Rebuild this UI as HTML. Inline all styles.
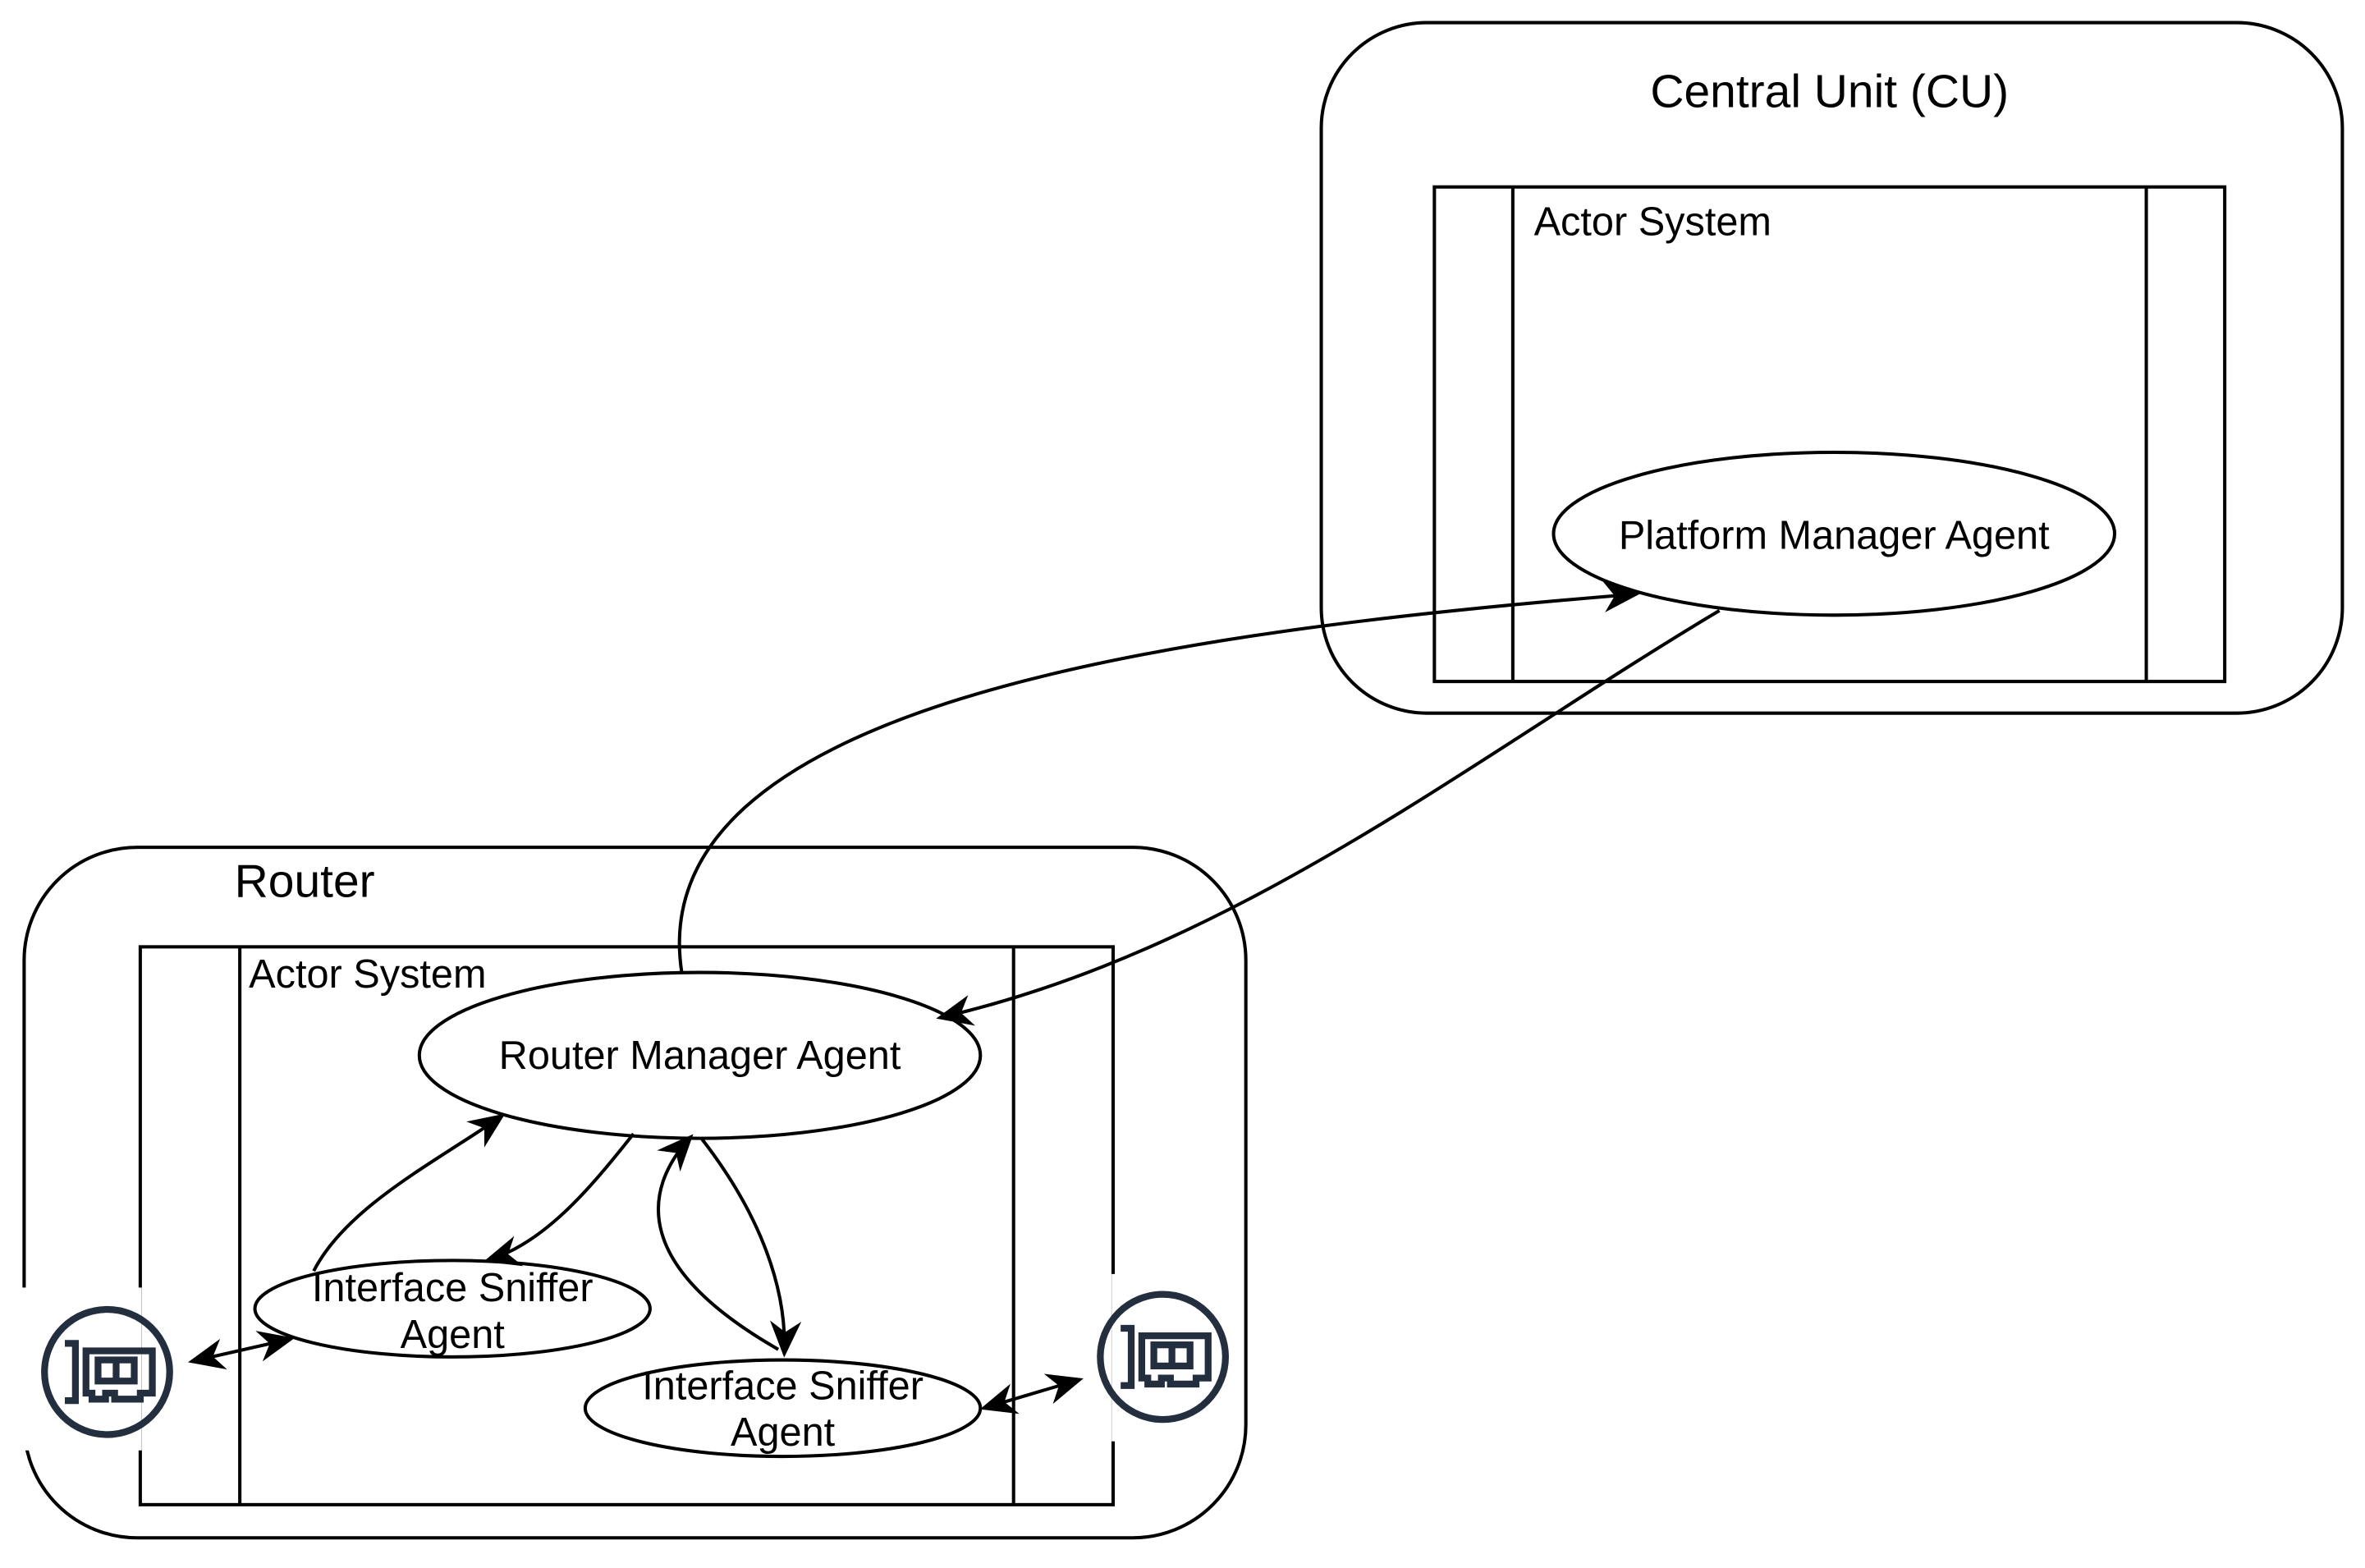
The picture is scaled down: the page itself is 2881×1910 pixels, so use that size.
<!DOCTYPE html>
<html><head><meta charset="utf-8"><style>html,body{margin:0;padding:0;background:#fff}svg{display:block}text{font-family:"Liberation Sans",Arial,sans-serif}</style></head>
<body>
<svg width="2881" height="1910" viewBox="0 0 1568 1040" preserveAspectRatio="none" xmlns="http://www.w3.org/2000/svg">
<defs>
<marker id="b" viewBox="0 0 10 10" refX="9" refY="5" markerWidth="11" markerHeight="11" orient="auto-start-reverse" markerUnits="strokeWidth"><path d="M0,0.7 L10,5 L0,9.3 L3,5 Z" fill="#000"/></marker>
<g id="ic">
<circle cx="0" cy="0" r="41.5" fill="none" stroke="#232f3e" stroke-width="4.5"/>
<path d="M-28,-19 H-21 V19 H-28" fill="none" stroke="#232f3e" stroke-width="4.5"/>
<path d="M-14,-14 H30 V14 H22 V18 H5 V14 H-1 V18 H-10 V14 H-14 Z" fill="none" stroke="#232f3e" stroke-width="4.5"/>
<rect x="-6" y="-8" width="24" height="14" fill="none" stroke="#232f3e" stroke-width="4.5"/>
<line x1="6" y1="-8" x2="6" y2="6" stroke="#232f3e" stroke-width="4.5"/>
</g>
</defs>
<g fill="none" stroke="#000" stroke-width="2.2">
<rect x="876" y="15" width="677" height="458" rx="70"/>
<rect x="951" y="124" width="524" height="328"/>
<line x1="1003" y1="124" x2="1003" y2="452"/>
<line x1="1423" y1="124" x2="1423" y2="452"/>
<rect x="16" y="562" width="810" height="458" rx="75"/>
<rect x="93" y="628" width="645" height="370"/>
<line x1="159" y1="628" x2="159" y2="998"/>
<line x1="672" y1="628" x2="672" y2="998"/>
</g>
<rect x="10" y="854" width="84" height="108" fill="#fff"/>
<rect x="737" y="845" width="86" height="111" fill="#fff"/>
<use href="#ic" x="71" y="910"/>
<use href="#ic" x="771" y="900"/>
<g fill="#fff" stroke="#000" stroke-width="2.2">
<ellipse cx="1216" cy="354" rx="186" ry="54"/>
<ellipse cx="464" cy="700" rx="186" ry="55"/>
<ellipse cx="300" cy="868" rx="131" ry="32"/>
<ellipse cx="519" cy="934" rx="131" ry="32"/>
</g>
<g fill="none" stroke="#000" stroke-width="2.2" marker-end="url(#b)">
<path d="M452,645 C425,470 760,420 1085,394"/>
<path d="M1140,405 C980,500 820,630 623,675"/>
<path d="M208,843 C230,800 290,770 333,740"/>
<path d="M420,752 C390,790 360,825 323,836"/>
<path d="M516,895 C420,840 425,790 458,754"/>
<path d="M465,755 C500,800 522,850 520,898"/>
<path d="M127,903 L193,888" marker-start="url(#b)"/>
<path d="M652,934 L716,915" marker-start="url(#b)"/>
</g>
<g fill="#000" font-size="26.5">
<text x="1213" y="71" font-size="31" text-anchor="middle">Central Unit (CU)</text>
<text x="1017" y="156">Actor System</text>
<text x="1216" y="364" text-anchor="middle">Platform Manager Agent</text>
<text x="202" y="595" font-size="31" text-anchor="middle">Router</text>
<text x="165" y="655">Actor System</text>
<text x="464" y="709" text-anchor="middle">Router Manager Agent</text>
<text x="300" y="863" text-anchor="middle">Interface Sniffer</text>
<text x="300" y="894" text-anchor="middle">Agent</text>
<text x="519" y="928" text-anchor="middle">Interface Sniffer</text>
<text x="519" y="959" text-anchor="middle">Agent</text>
</g>
</svg>
</body></html>
